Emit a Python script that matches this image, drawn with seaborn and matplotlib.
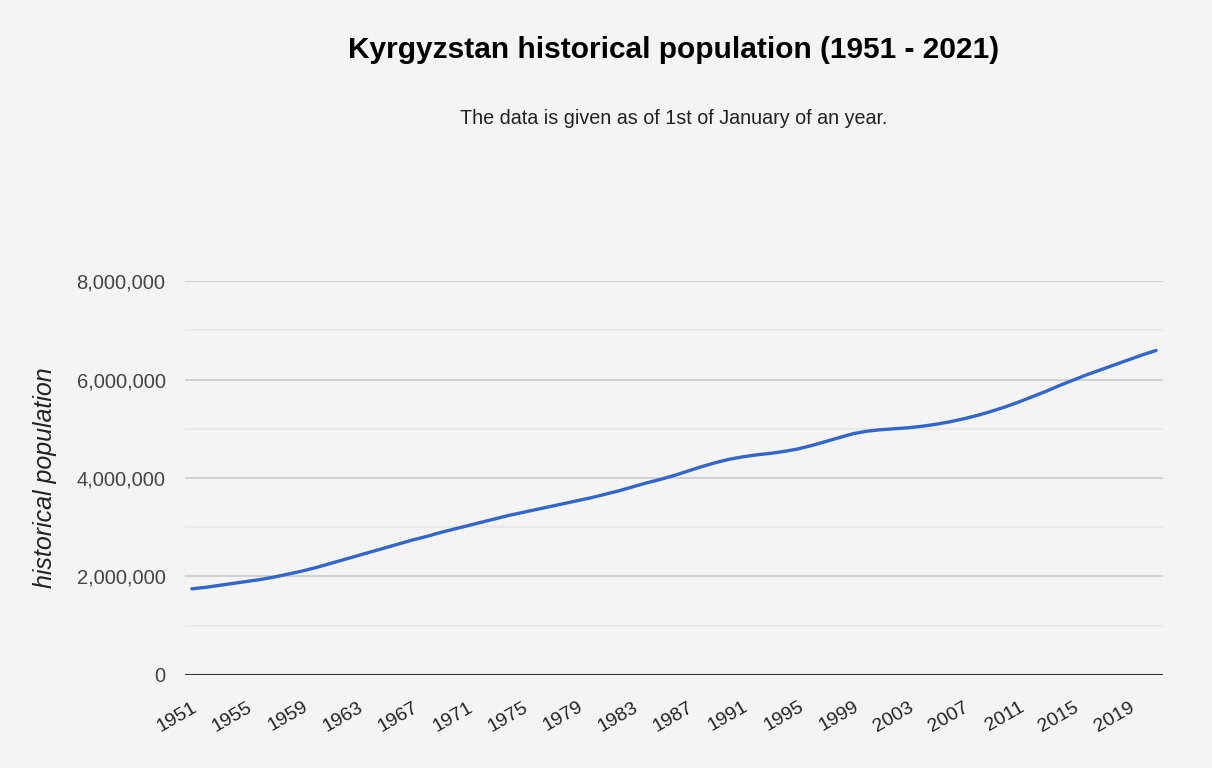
import pandas as pd
import matplotlib.pyplot as plt
import matplotlib.ticker as mticker
import seaborn as sns

# Population as of 1st of January
years = list(range(1951, 2022))
population = [
    1750000, 1780000, 1820000, 1860000, 1900000, 1940000, 1990000, 2050000, 2110000, 2180000,
    2260000, 2340000, 2420000, 2500000, 2580000, 2660000, 2740000, 2810000, 2890000, 2960000,
    3030000, 3100000, 3170000, 3240000, 3300000, 3360000, 3420000, 3480000, 3540000, 3600000,
    3670000, 3740000, 3820000, 3900000, 3970000, 4050000, 4140000, 4230000, 4310000, 4380000,
    4430000, 4470000, 4500000, 4540000, 4590000, 4660000, 4740000, 4820000, 4900000, 4950000,
    4980000, 5000000, 5020000, 5050000, 5090000, 5140000, 5200000, 5270000, 5350000, 5440000,
    5540000, 5650000, 5760000, 5880000, 5990000, 6100000, 6200000, 6300000, 6400000, 6500000,
    6590000,
]
tick_years = list(range(1951, 2021, 4))
y_major = [0, 2000000, 4000000, 6000000, 8000000]
y_minor = [1000000, 3000000, 5000000, 7000000]

df = pd.DataFrame({'year': years, 'population': population})

sns.set_theme(style="white")
plt.rcParams['font.family'] = ['Liberation Sans', 'DejaVu Sans']

bg = '#f4f4f4'
fig = plt.figure(figsize=(12.12, 7.68), dpi=100, facecolor=bg)
ax = fig.add_axes([0.1526, 0.1211, 0.8070, 0.5130], facecolor=bg)

sns.lineplot(ax=ax, x='year', y='population', data=df, color='#3366cc', linewidth=2.4)

ax.set_xlim(1950.5, 2021.5)
ax.set_ylim(0, 8000000)
ax.set_yticks(y_major)
ax.set_yticks(y_minor, minor=True)
ax.yaxis.set_major_formatter(mticker.FuncFormatter(lambda v, p: f'{int(v):,}'))
ax.grid(axis='y', which='major', color='#cccccc', linewidth=1.2)
ax.grid(axis='y', which='minor', color='#e6e6e6', linewidth=1.2)
ax.axhline(0, color='#333333', linewidth=1.5, zorder=3)
for s in ax.spines.values():
    s.set_visible(False)

ax.set_xticks(tick_years)
ax.set_xticklabels([str(y) for y in tick_years], rotation=30, ha='right',
                   rotation_mode='anchor', fontsize=14, color='#222222')
ax.tick_params(axis='x', length=0, pad=17)
ax.tick_params(axis='y', which='both', length=0, pad=14, labelsize=14.5, labelcolor='#444444')

ax.set_xlabel('')
ax.set_ylabel('historical population', fontsize=18, style='italic', color='#222222', labelpad=14)

fig.text(0.556, 0.935, 'Kyrgyzstan historical population (1951 - 2021)', ha='center', va='center',
         fontsize=21.5, fontweight='bold', color='#000000')
fig.text(0.556, 0.846, 'The data is given as of 1st of January of an year.', ha='center', va='center',
         fontsize=14.2, color='#222222')

fig.savefig('out.png', dpi=100, facecolor=bg)
